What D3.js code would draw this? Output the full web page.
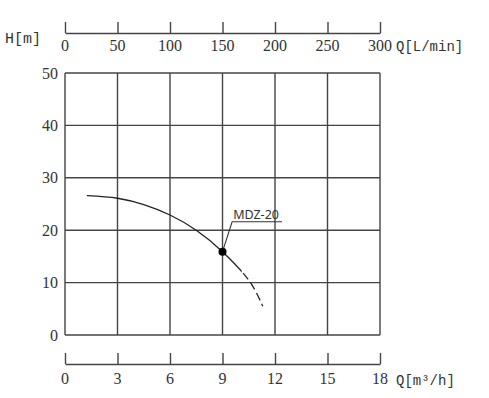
<!DOCTYPE html>
<html>
<head>
<meta charset="utf-8">
<script src="https://cdn.jsdelivr.net/npm/d3@7"></script>
<style>
  body { margin: 0; background: #fff; }
</style>
</head>
<body>
<script>
// Chart data
const flowTicks = [0, 3, 6, 9, 12, 15, 18];          // Q [m3/h]
const litreTicks = [0, 50, 100, 150, 200, 250, 300]; // Q [L/min]
const headTicks = [0, 10, 20, 30, 40, 50];           // H [m]

// MDZ-20 curve
const curveQ = [1.25, 3, 4.5, 6, 7.5, 9, 10.6, 11.3];
const curveH = [26.6, 26.1, 24.9, 22.9, 20.0, 15.9, 10.0, 5.5];
const dashFrom = 10.1; // curve turns dashed past this flow
const dutyPoint = { q: 9, h: 15.9, name: "MDZ-20" };

const width = 489;
const height = 398;
const ink = "#444";
const serif = '"Liberation Serif"';
const mono = '"Liberation Mono"';

const svg = d3.select("body")
  .append("svg")
  .attr("width", width)
  .attr("height", height);

// Scales
const x = d3.scaleLinear().domain([0, 18]).range([65, 380]);
const xl = d3.scaleLinear().domain([0, 300]).range([65, 380]);
const y = d3.scaleLinear().domain([0, 50]).range([335, 73]);

// Grid
const grid = svg.append("g")
  .attr("stroke", ink)
  .attr("stroke-width", 1.4);

grid.selectAll(".v")
  .data(flowTicks)
  .enter()
  .append("line")
  .attr("x1", d => x(d)).attr("x2", d => x(d))
  .attr("y1", y(0)).attr("y2", y(50));

grid.selectAll(".h")
  .data(headTicks)
  .enter()
  .append("line")
  .attr("x1", x(0)).attr("x2", x(18))
  .attr("y1", d => y(d)).attr("y2", d => y(d));

// Axes draw the lines and ticks; tick labels are added as plain texts below
function styleAxis(g) {
  g.select(".domain").attr("stroke", ink).attr("stroke-width", 1.4);
  g.selectAll(".tick line").attr("stroke", ink).attr("stroke-width", 1.4);
  g.selectAll(".tick text").remove();
}

svg.append("g")
  .attr("transform", "translate(0,33)")
  .call(d3.axisBottom(xl).tickValues(litreTicks).tickSizeInner(-11).tickSizeOuter(0))
  .call(styleAxis);

svg.append("g")
  .attr("transform", "translate(0,364)")
  .call(d3.axisBottom(x).tickValues(flowTicks).tickSizeInner(-11).tickSizeOuter(0))
  .call(styleAxis);

// Tick labels
function tickLabels(data, xf, yf, anchor) {
  svg.append("g")
    .selectAll("text")
    .data(data)
    .enter()
    .append("text")
    .attr("x", xf)
    .attr("y", yf)
    .attr("text-anchor", anchor)
    .attr("fill", "#333")
    .style("font-family", serif)
    .style("font-size", "16px")
    .text(d => d);
}

tickLabels(litreTicks, d => xl(d), 51, "middle");
tickLabels(flowTicks, d => x(d), 384, "middle");
tickLabels(headTicks, x(0) - 7, d => y(d) + 5.5, "end");

// Unit labels
svg.append("text")
  .attr("x", 5).attr("y", 43)
  .attr("fill", "#333")
  .style("font-family", mono).style("font-size", "15px")
  .text("H[m]");

svg.append("text")
  .attr("x", 396).attr("y", 51)
  .attr("fill", "#333")
  .style("font-family", mono).style("font-size", "14px")
  .text("Q[L/min]");

svg.append("text")
  .attr("x", 396).attr("y", 385)
  .attr("fill", "#333")
  .style("font-family", mono).style("font-size", "14px")
  .text("Q[m³/h]");

// Curve: one smooth path, clipped into a solid and a dashed part
const line = d3.line()
  .x(d => x(d[0]))
  .y(d => y(d[1]))
  .curve(d3.curveCatmullRom);

const curveData = d3.zip(curveQ, curveH);
const defs = svg.append("defs");
defs.append("clipPath").attr("id", "clip-solid")
  .append("rect")
  .attr("x", 0).attr("y", 0)
  .attr("width", x(dashFrom)).attr("height", height);
defs.append("clipPath").attr("id", "clip-dash")
  .append("rect")
  .attr("x", x(dashFrom)).attr("y", 0)
  .attr("width", width - x(dashFrom)).attr("height", height);

svg.append("path")
  .datum(curveData)
  .attr("d", line)
  .attr("clip-path", "url(#clip-solid)")
  .attr("fill", "none")
  .attr("stroke", "#222")
  .attr("stroke-width", 1.3);

svg.append("path")
  .datum(curveData)
  .attr("d", line)
  .attr("clip-path", "url(#clip-dash)")
  .attr("fill", "none")
  .attr("stroke", "#222")
  .attr("stroke-width", 1.3)
  .attr("stroke-dasharray", "8,4");

// Duty point and label
const px = x(dutyPoint.q);
const py = y(dutyPoint.h);
const lx = x(9.55);
const ly = y(21.6);

svg.append("polyline")
  .attr("points", `${px},${py} ${lx},${ly} ${x(12.4)},${ly}`)
  .attr("fill", "none")
  .attr("stroke", "#333")
  .attr("stroke-width", 1.1);

svg.append("circle")
  .attr("cx", px).attr("cy", py)
  .attr("r", 4)
  .attr("fill", "#000");

svg.append("text")
  .attr("x", lx + 1).attr("y", ly - 3)
  .attr("fill", "#333")
  .style("font-family", '"Noto Sans"')
  .style("font-size", "12.5px")
  .text(dutyPoint.name);
</script>
</body>
</html>
